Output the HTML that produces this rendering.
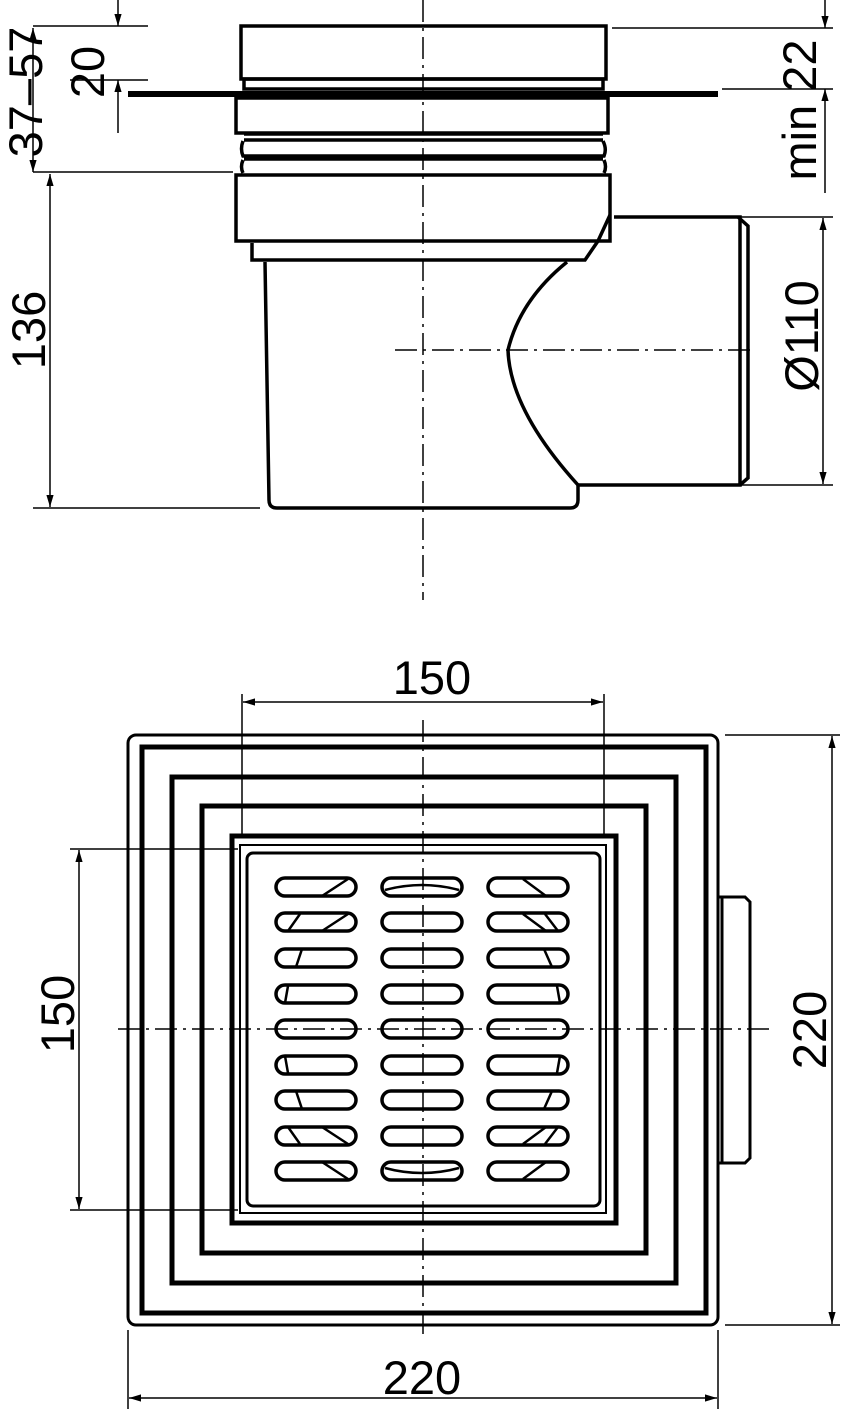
<!DOCTYPE html>
<html><head><style>html,body{margin:0;padding:0;background:#fff}svg{display:block}text{font-family:"Liberation Sans",sans-serif;font-size:47px;fill:#000}</style></head><body>
<svg width="843" height="1409" viewBox="0 0 843 1409" xmlns="http://www.w3.org/2000/svg">
<defs>
<marker id="a" viewBox="0 0 10 10" refX="10" refY="5" markerWidth="12" markerHeight="12" markerUnits="userSpaceOnUse" orient="auto-start-reverse"><path d="M0,2 L10,5 L0,8 z" fill="#000"/></marker>
</defs>
<g fill="none" stroke="#000" stroke-width="3.5">
<rect x="241" y="26" width="365" height="53"/>
<rect x="244" y="79" width="359" height="10"/>
<line x1="128" y1="94" x2="718" y2="94" stroke-width="6"/>
<rect x="236" y="98" width="372" height="35"/>
<path d="M244,134 H603 M244,140 H603 M243,141 Q240,149 243,156 H604 Q607,149 603,141 M244,159 H603 M243,160 Q240,167 243,173 M604,160 Q607,167 604,173"/>
<rect x="236" y="175" width="374" height="66"/>
<path d="M252,243 V260 H585 L598,241"/>
<path d="M610,215 L598,241"/>
<path d="M265,262 L269,500 Q269,508 277,508 H570 Q578,508 578,500 V485 H740 V217 H614"/>
<path d="M567,262 Q520,300 508,350 Q510,410 578,485"/>
<path d="M738,217 L748,226 V478 L740,485"/>
</g>
<g stroke="#000" stroke-width="1.5" fill="none">
<line x1="423" y1="0" x2="423" y2="600" stroke-dasharray="22,6,3,6"/>
<line x1="395" y1="350" x2="755" y2="350" stroke-dasharray="22,6,3,6"/>
<line x1="33" y1="26" x2="148" y2="26"/>
<line x1="612" y1="28" x2="833" y2="28"/>
<line x1="722" y1="89" x2="833" y2="89"/>
<line x1="70" y1="80" x2="148" y2="80"/>
<line x1="33" y1="172" x2="233" y2="172"/>
<line x1="33" y1="508" x2="260" y2="508"/>
<line x1="740" y1="217" x2="833" y2="217"/>
<line x1="740" y1="485" x2="833" y2="485"/>
<line x1="33" y1="28" x2="33" y2="172" marker-start="url(#a)" marker-end="url(#a)"/>
<line x1="50" y1="174" x2="50" y2="507" marker-start="url(#a)" marker-end="url(#a)"/>
<line x1="118" y1="0" x2="118" y2="26" marker-end="url(#a)"/>
<line x1="118" y1="133" x2="118" y2="80" marker-end="url(#a)"/>
<line x1="825" y1="0" x2="825" y2="28" marker-end="url(#a)"/>
<line x1="825" y1="193" x2="825" y2="89" marker-end="url(#a)"/>
<line x1="823" y1="218" x2="823" y2="484" marker-start="url(#a)" marker-end="url(#a)"/>
</g>
<text transform="translate(42,92) rotate(-90)" text-anchor="middle">37–57</text>
<text transform="translate(104,72) rotate(-90)" text-anchor="middle">20</text>
<text transform="translate(45,330) rotate(-90)" text-anchor="middle">136</text>
<text transform="translate(816,110) rotate(-90)" text-anchor="middle">min 22</text>
<text transform="translate(818,336) rotate(-90)" text-anchor="middle">Ø110</text>

<g fill="none" stroke="#000">
<rect x="128" y="735" width="590" height="590" rx="8" stroke-width="3"/>
<rect x="142" y="747" width="564" height="566" stroke-width="5"/>
<rect x="172" y="777" width="504" height="506" stroke-width="5"/>
<rect x="202" y="806" width="444" height="447" stroke-width="5"/>
<rect x="232" y="836" width="384" height="387" stroke-width="5"/>
<rect x="240" y="845" width="366" height="368" stroke-width="2"/>
<rect x="247" y="853" width="353" height="353" rx="6" stroke-width="3"/>
<path d="M718,897 H745 L750,902 V1158 L745,1163 H718 M722,897 V1163" stroke-width="3"/>
<g stroke-width="3.5">
<rect x="276" y="878" width="80" height="18" rx="9"/><rect x="382" y="878" width="80" height="18" rx="9"/><rect x="488" y="878" width="80" height="18" rx="9"/>
<rect x="276" y="913" width="80" height="18" rx="9"/><rect x="382" y="913" width="80" height="18" rx="9"/><rect x="488" y="913" width="80" height="18" rx="9"/>
<rect x="276" y="949" width="80" height="18" rx="9"/><rect x="382" y="949" width="80" height="18" rx="9"/><rect x="488" y="949" width="80" height="18" rx="9"/>
<rect x="276" y="985" width="80" height="18" rx="9"/><rect x="382" y="985" width="80" height="18" rx="9"/><rect x="488" y="985" width="80" height="18" rx="9"/>
<rect x="276" y="1020" width="80" height="18" rx="9"/><rect x="382" y="1020" width="80" height="18" rx="9"/><rect x="488" y="1020" width="80" height="18" rx="9"/>
<rect x="276" y="1056" width="80" height="18" rx="9"/><rect x="382" y="1056" width="80" height="18" rx="9"/><rect x="488" y="1056" width="80" height="18" rx="9"/>
<rect x="276" y="1091" width="80" height="18" rx="9"/><rect x="382" y="1091" width="80" height="18" rx="9"/><rect x="488" y="1091" width="80" height="18" rx="9"/>
<rect x="276" y="1127" width="80" height="18" rx="9"/><rect x="382" y="1127" width="80" height="18" rx="9"/><rect x="488" y="1127" width="80" height="18" rx="9"/>
<rect x="276" y="1162" width="80" height="18" rx="9"/><rect x="382" y="1162" width="80" height="18" rx="9"/><rect x="488" y="1162" width="80" height="18" rx="9"/>
</g>
<g stroke-width="2.5">
<path d="M322,896 L348,879 M288,931 L300,914 M322,931 L348,914 M296,967 L302,949 M285,1003 L288,986"/>
<path d="M523,879 L546,896 M523,914 L546,931 M545,914 L558,931 M544,949 L552,967 M557,986 L560,1003"/>
<path d="M385,890 Q422,880 459,890 M385,1168 Q422,1178 459,1168"/>
<path d="M322,1162 L348,1179 M288,1127 L300,1144 M322,1127 L348,1144 M296,1091 L302,1109 M285,1056 L288,1073"/>
<path d="M523,1179 L546,1162 M523,1144 L546,1127 M545,1144 L558,1127 M544,1109 L552,1091 M557,1073 L560,1056"/>
</g>
</g>
<g stroke="#000" stroke-width="1.5" fill="none">
<line x1="423" y1="720" x2="423" y2="1340" stroke-dasharray="22,6,3,6"/>
<line x1="118" y1="1029" x2="772" y2="1029" stroke-dasharray="22,6,3,6"/>
<line x1="242" y1="694" x2="242" y2="836"/>
<line x1="604" y1="694" x2="604" y2="836"/>
<line x1="243" y1="702" x2="603" y2="702" marker-start="url(#a)" marker-end="url(#a)"/>
<line x1="70" y1="849" x2="238" y2="849"/>
<line x1="70" y1="1210" x2="238" y2="1210"/>
<line x1="79" y1="850" x2="79" y2="1209" marker-start="url(#a)" marker-end="url(#a)"/>
<line x1="725" y1="735" x2="840" y2="735"/>
<line x1="725" y1="1325" x2="840" y2="1325"/>
<line x1="832" y1="736" x2="832" y2="1324" marker-start="url(#a)" marker-end="url(#a)"/>
<line x1="128" y1="1330" x2="128" y2="1409"/>
<line x1="718" y1="1330" x2="718" y2="1409"/>
<line x1="129" y1="1398" x2="717" y2="1398" marker-start="url(#a)" marker-end="url(#a)"/>
</g>
<text x="432" y="694" text-anchor="middle">150</text>
<text transform="translate(74,1014) rotate(-90)" text-anchor="middle">150</text>
<text transform="translate(826,1030) rotate(-90)" text-anchor="middle">220</text>
<text x="422" y="1394" text-anchor="middle">220</text>
</svg>
</body></html>
